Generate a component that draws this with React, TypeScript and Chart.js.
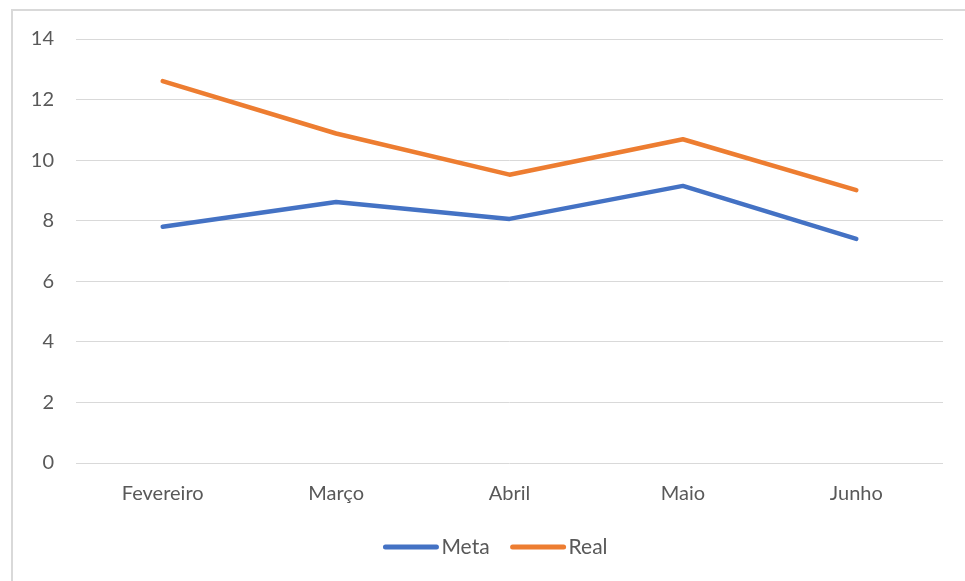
import React, { useEffect, useRef } from "react";
import { Chart, registerables } from "chart.js";

Chart.register(...registerables);

const categories = ["Fevereiro", "Março", "Abril", "Maio", "Junho"];
const metaValues = [7.8, 8.62, 8.06, 9.15, 7.4];
const realValues = [12.61, 10.88, 9.52, 10.69, 9.01];
const seriesLabels = ["Meta", "Real"];
const seriesColors = ["#4472C4", "#ED7D31"];

const FONT = "Lato, 'Open Sans', sans-serif";

const legendPlugin = {
  id: "customLegend",
  afterDraw(chart: any) {
    const ctx = chart.ctx;
    const y = 547;
    const items = chart.data.datasets.map((d: any) => ({ label: d.label, color: d.borderColor }));
    ctx.save();
    ctx.font = `21px ${FONT}`;
    const lineW = 55;
    const gap = 3;
    const itemGap = 21;
    const widths = items.map((it: any) => lineW + gap + ctx.measureText(it.label).width);
    const total = widths.reduce((a: number, b: number) => a + b, 0) + itemGap * (items.length - 1);
    let x = (chart.chartArea.left + chart.chartArea.right) / 2 - 14 - total / 2;
    items.forEach((it: any, i: number) => {
      ctx.strokeStyle = it.color;
      ctx.lineWidth = 5;
      ctx.lineCap = "round";
      ctx.beginPath();
      ctx.moveTo(x + 2, y);
      ctx.lineTo(x + lineW - 2, y);
      ctx.stroke();
      ctx.fillStyle = "#595959";
      ctx.textBaseline = "middle";
      ctx.textAlign = "left";
      ctx.fillText(it.label, x + lineW + gap, y);
      x += widths[i] + itemGap;
    });
    ctx.restore();
  },
};

export default function App() {
  const ref = useRef<HTMLCanvasElement>(null);
  useEffect(() => {
    if (!ref.current) return;
    const chart = new Chart(ref.current, {
      type: "line",
      data: {
        labels: categories,
        datasets: [
          {
            label: seriesLabels[0],
            data: metaValues,
            borderColor: seriesColors[0],
            backgroundColor: seriesColors[0],
            borderWidth: 4.5,
            pointRadius: 0,
            tension: 0,
            borderCapStyle: "round",
            borderJoinStyle: "round",
          },
          {
            label: seriesLabels[1],
            data: realValues,
            borderColor: seriesColors[1],
            backgroundColor: seriesColors[1],
            borderWidth: 4.5,
            pointRadius: 0,
            tension: 0,
            borderCapStyle: "round",
            borderJoinStyle: "round",
          },
        ],
      },
      options: {
        animation: false,
        responsive: false,
        maintainAspectRatio: false,
        layout: { padding: { top: 39, right: 22, left: 0, bottom: 0 } },
        plugins: {
          legend: { display: false },
          tooltip: { enabled: false },
        },
        scales: {
          x: {
            offset: true,
            grid: { display: false, drawTicks: false },
            border: { display: false },
            ticks: { color: "#595959", font: { family: FONT, size: 20 }, padding: 19, maxRotation: 0 },
            afterFit: (s: any) => {
              s.height = 118;
            },
          },
          y: {
            min: 0,
            max: 14,
            ticks: { stepSize: 2, color: "#595959", font: { family: FONT, size: 20 }, padding: 22 },
            grid: { color: "#d9d9d9", lineWidth: 1, drawTicks: false },
            border: { display: false },
            afterFit: (s: any) => {
              s.width = 76;
            },
          },
        },
      },
      plugins: [legendPlugin],
    });
    return () => chart.destroy();
  }, []);
  return (
    <div style={{ position: "fixed", left: 0, top: 0, width: 965, height: 581, overflow: "hidden", background: "#fff" }}>
      <div
        style={{
          position: "absolute",
          left: 11,
          top: 9,
          width: 1000,
          height: 1000,
          border: "2px solid #d9d9d9",
        }}
      />
      <canvas ref={ref} width={965} height={581} style={{ position: "absolute", left: 0, top: 0 }} />
    </div>
  );
}
